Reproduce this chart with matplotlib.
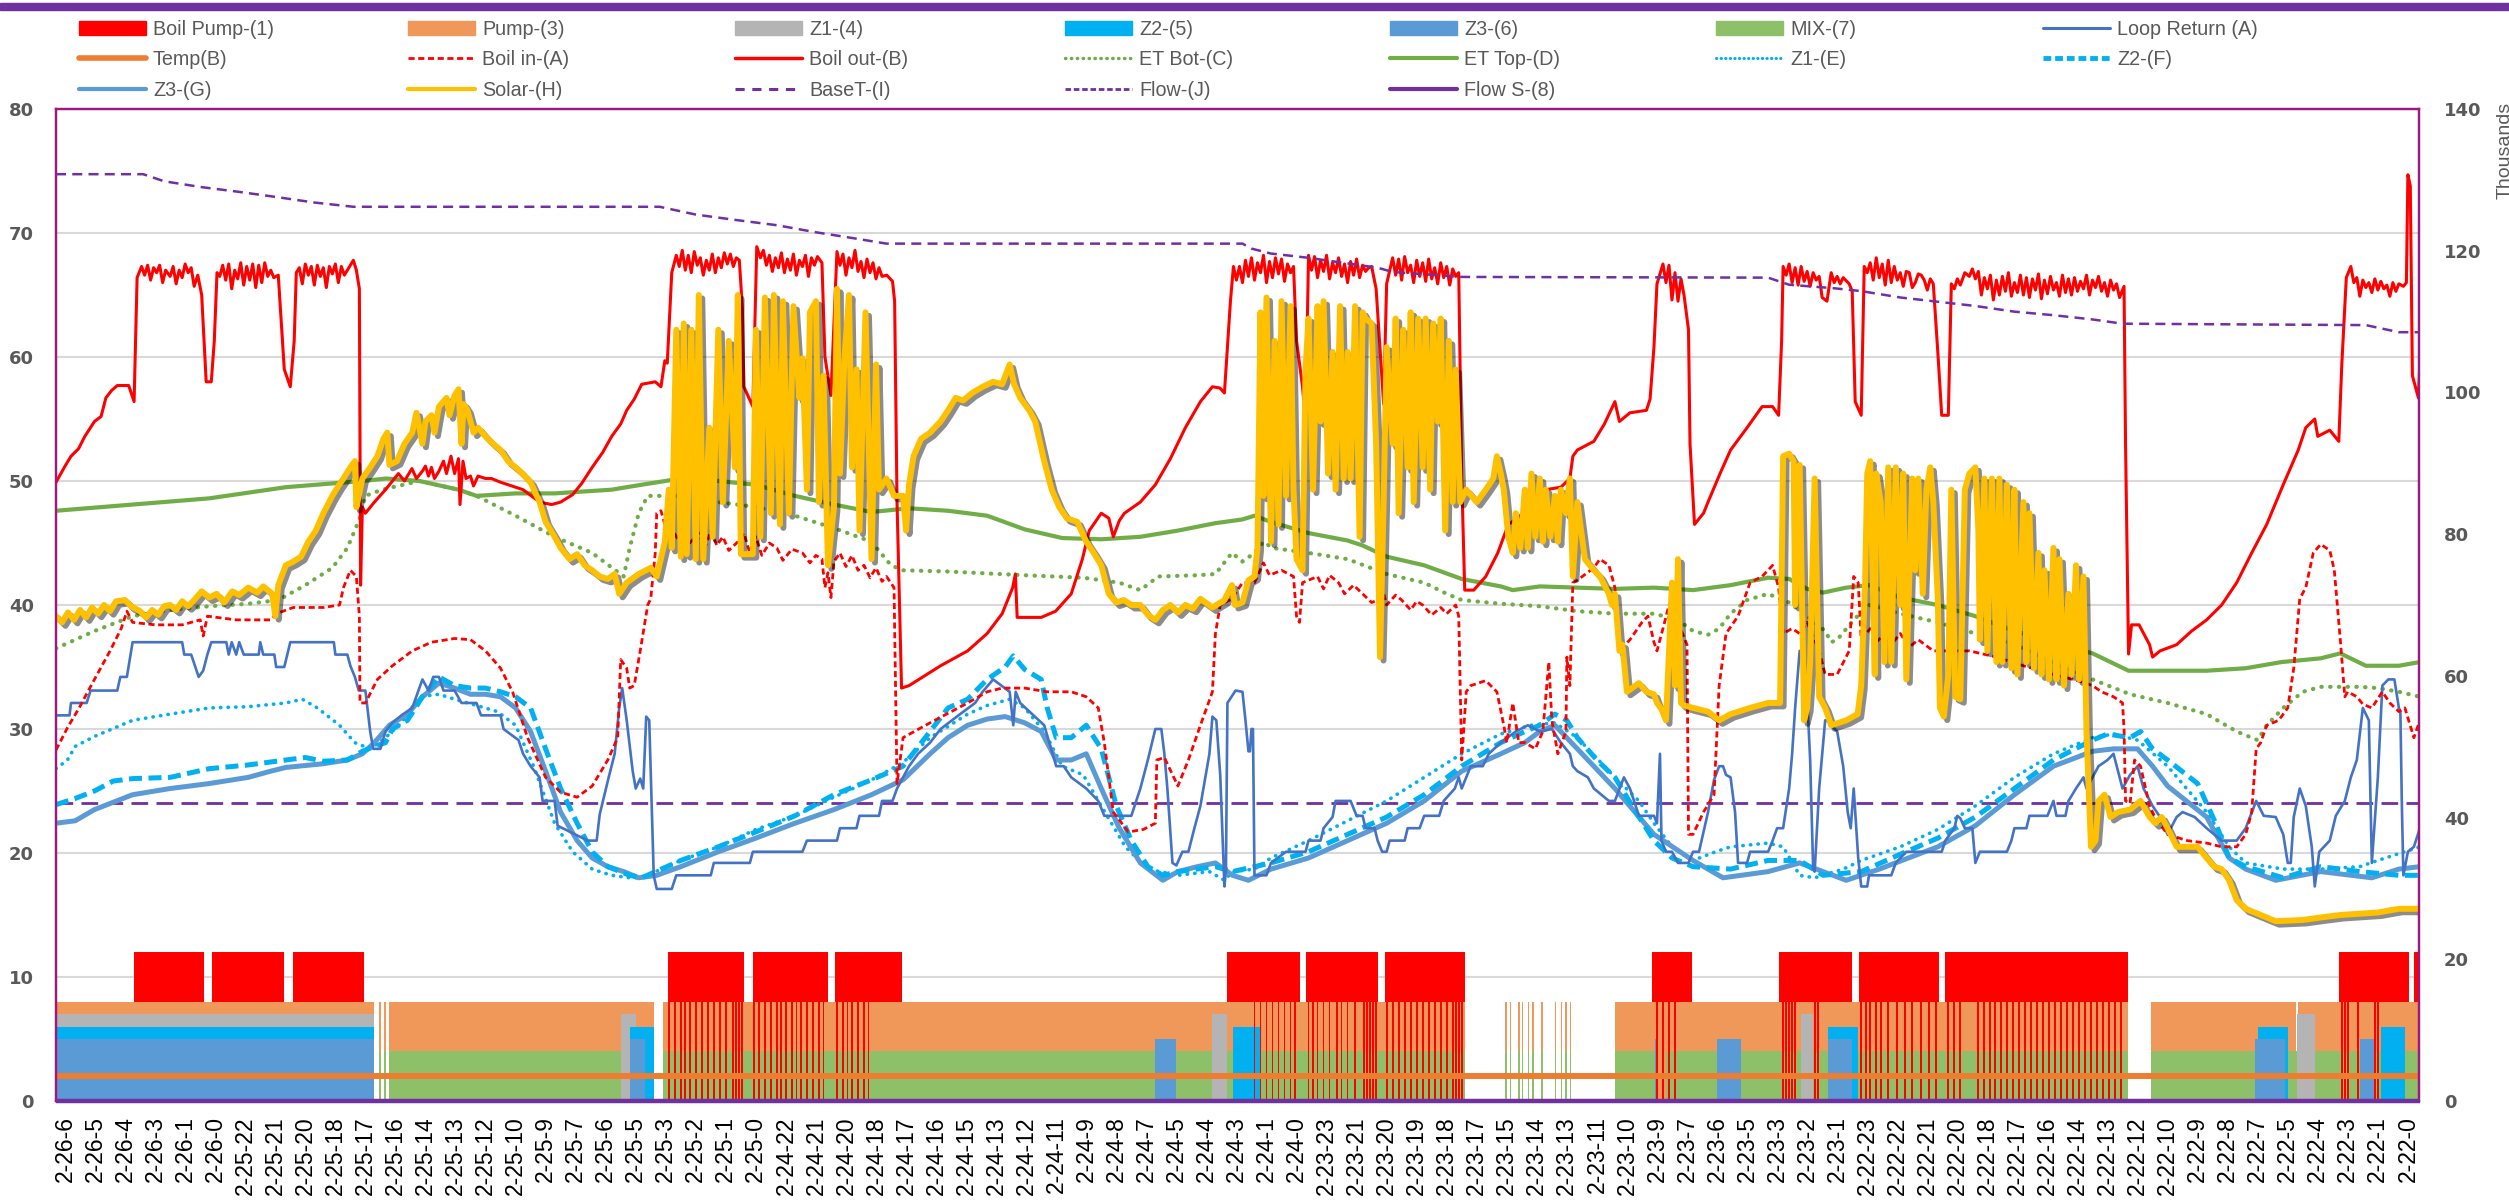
import matplotlib
matplotlib.use("Agg")
import matplotlib.pyplot as plt
import matplotlib.patheffects as pe
from matplotlib.patches import Patch, Rectangle
from matplotlib.lines import Line2D
import numpy as np

# x positions are in "tick slots" of the category axis (0 = 2-26-6, 78 = 2-22-0)
tick_labels = ["2-26-6", "2-26-5", "2-26-4", "2-26-3", "2-26-1", "2-26-0", "2-25-22", "2-25-21", "2-25-20", "2-25-18",
               "2-25-17", "2-25-16", "2-25-14", "2-25-13", "2-25-12", "2-25-10", "2-25-9", "2-25-7", "2-25-6", "2-25-5",
               "2-25-3", "2-25-2", "2-25-1", "2-25-0", "2-24-22", "2-24-21", "2-24-20", "2-24-18", "2-24-17", "2-24-16",
               "2-24-15", "2-24-13", "2-24-12", "2-24-11", "2-24-9", "2-24-8", "2-24-7", "2-24-5", "2-24-4", "2-24-3",
               "2-24-1", "2-24-0", "2-23-23", "2-23-21", "2-23-20", "2-23-19", "2-23-18", "2-23-17", "2-23-15", "2-23-14",
               "2-23-13", "2-23-11", "2-23-10", "2-23-9", "2-23-7", "2-23-6", "2-23-5", "2-23-3", "2-23-2", "2-23-1",
               "2-22-23", "2-22-22", "2-22-21", "2-22-20", "2-22-18", "2-22-17", "2-22-16", "2-22-14", "2-22-13", "2-22-12",
               "2-22-10", "2-22-9", "2-22-8", "2-22-7", "2-22-5", "2-22-4", "2-22-3", "2-22-1", "2-22-0"]

# on/off periods (start, end) for the status columns
boil_pump_on = [(2.3, 4.64), (4.88, 7.3), (7.58, 9.97), (20.07, 22.62), (22.93, 25.4), (25.63, 27.85),
                (38.7, 41.1), (41.3, 43.7), (43.93, 46.6), (52.82, 54.15), (57.05, 59.5), (59.72, 62.38),
                (62.6, 68.68), (75.7, 78.05), (78.2, 78.4)]
pump_on = [(-0.3, 10.3), (10.45, 10.52), (10.62, 10.68), (10.8, 19.6), (19.9, 46.6), (47.95, 48.0), (48.1, 48.15),
           (48.38, 48.43), (48.5, 48.55), (48.7, 48.75), (48.85, 48.9), (49.15, 49.2), (49.6, 49.65), (49.8, 49.85),
           (49.95, 50.0), (50.1, 50.15), (51.6, 68.68), (69.45, 74.28), (74.33, 78.4)]
z1_on = [(-0.3, 10.3), (18.5, 19.0), (38.2, 38.7), (52.98, 53.05), (57.8, 58.2), (74.3, 74.9)]
z2_on = [(-0.3, 10.3), (18.8, 19.6), (38.9, 39.8), (58.7, 59.7), (73.0, 74.0), (77.1, 77.9)]
z3_on = [(-0.3, 10.3), (18.8, 19.3), (36.3, 37.0), (52.95, 53.0), (55.0, 55.8), (58.7, 59.5), (72.9, 73.9), (76.4, 76.9)]
mix_on = [(10.45, 10.52), (10.62, 10.68), (10.8, 18.5), (19.9, 36.3), (37.0, 38.2), (38.7, 38.9), (39.8, 46.6),
          (47.95, 48.0), (48.1, 48.15), (48.38, 48.43), (48.5, 48.55), (48.7, 48.75), (48.85, 48.9), (49.15, 49.2),
          (49.6, 49.65), (49.8, 49.85), (49.95, 50.0), (50.1, 50.15), (51.6, 52.95), (53.3, 55.0), (55.8, 57.8),
          (58.2, 58.7), (59.7, 68.68), (69.45, 72.9), (74.0, 74.3), (74.9, 76.4), (76.9, 77.1), (77.9, 78.4)]
# samples where only the boiler pump ran (pump and mix off)
boil_only = [20.1, 20.3, 20.5, 20.65, 20.8, 21.0, 21.2, 21.4, 21.6, 21.8, 22.0, 22.25, 22.35, 22.45, 22.55,
             22.95, 23.1, 23.3, 23.5, 23.7, 23.85, 24.0, 24.2, 24.35, 24.5, 24.7, 24.9, 25.1, 25.25,
             25.7, 25.9, 26.05, 26.2, 26.4, 26.6, 26.75,
             39.6, 39.8, 40.0, 40.2, 40.4, 40.6, 40.8, 40.95, 41.4, 41.55, 41.7, 41.9, 42.1, 42.35, 42.5, 42.7,
             42.95, 43.25, 43.35, 43.45, 43.55, 43.65, 44.0, 44.2, 44.4, 44.6, 44.8, 45.0, 45.2, 45.4, 45.6,
             45.8, 46.0, 46.2, 46.3, 46.4, 46.5, 53.0, 53.2, 53.4, 53.6, 57.2, 57.3, 57.4, 57.5, 57.6, 58.25,
             58.35, 59.8, 59.95, 60.1, 60.3, 60.45, 60.7, 61.0, 61.25, 61.5, 61.8, 62.05, 62.3, 62.7, 62.9,
             63.1, 63.7, 63.9, 64.1, 64.25, 64.45, 64.65, 64.85, 65.05, 65.25, 65.45, 65.65, 65.85, 66.05,
             66.25, 66.45, 66.65, 66.85, 67.05, 67.25, 67.45, 67.65, 67.85, 68.05, 68.25, 68.45,
             75.8, 75.9, 76.0, 76.35, 76.9, 77.0]

boil_out = [(-0.3, 49.9), (0.0, 51.2), (0.2, 52.0), (0.45, 52.6), (0.66, 53.6), (0.98, 54.8), (1.2, 55.2), (1.36, 56.7),
            (1.55, 57.3), (1.74, 57.7), (2.12, 57.7), (2.3, 56.4), (2.4, 66.4), (2.55, 67.3), (2.65, 66.6), (2.75, 67.4),
            (2.85, 66.2), (2.95, 67.2), (3.05, 66.8), (3.15, 67.4), (3.25, 66.0), (3.35, 67.0), (3.5, 66.5), (3.6, 67.3),
            (3.7, 65.9), (3.8, 67.0), (3.9, 66.4), (4.0, 67.5), (4.1, 66.8), (4.2, 67.2), (4.3, 65.7), (4.42, 66.6),
            (4.55, 65.0), (4.7, 58.0), (4.87, 58.0), (4.97, 61.3), (5.06, 66.8), (5.15, 66.5), (5.25, 67.4), (5.35, 66.2),
            (5.45, 67.5), (5.55, 65.5), (5.65, 67.0), (5.75, 66.3), (5.85, 67.6), (5.95, 65.8), (6.05, 67.3), (6.15, 66.2),
            (6.25, 67.5), (6.35, 65.6), (6.45, 67.4), (6.55, 66.0), (6.65, 67.6), (6.75, 66.5), (6.85, 67.0), (6.95, 66.4),
            (7.1, 66.6), (7.3, 59.0), (7.5, 57.6), (7.63, 61.3), (7.7, 66.8), (7.8, 67.2), (7.9, 65.9), (8.0, 67.5),
            (8.1, 66.6), (8.2, 67.3), (8.3, 65.8), (8.4, 67.4), (8.5, 66.5), (8.6, 67.2), (8.7, 65.6), (8.8, 67.3),
            (8.9, 66.7), (9.0, 67.5), (9.1, 66.0), (9.2, 67.3), (9.3, 66.6), (9.45, 67.2), (9.6, 67.8), (9.7, 67.0),
            (9.8, 65.5), (9.84, 41.6), (9.9, 47.9), (10.0, 47.4), (10.3, 48.3), (10.67, 49.3), (10.9, 50.0), (11.1, 50.6),
            (11.3, 50.0), (11.4, 50.4), (11.55, 51.0), (11.7, 50.2), (11.9, 50.8), (12.0, 51.2), (12.1, 50.4), (12.2, 51.1),
            (12.3, 50.2), (12.45, 50.8), (12.6, 51.6), (12.7, 50.6), (12.85, 52.0), (12.97, 50.6), (13.1, 51.8),
            (13.15, 48.1), (13.25, 51.6), (13.35, 50.2), (13.5, 50.4), (13.6, 49.6), (13.75, 50.4), (14.0, 50.2),
            (14.2, 50.2), (14.5, 49.9), (14.75, 49.7), (15.25, 49.3), (15.8, 48.3), (16.2, 48.1), (16.5, 48.3),
            (16.9, 48.9), (17.2, 49.8), (17.55, 51.1), (17.9, 52.3), (18.2, 53.6), (18.5, 54.6), (18.7, 55.7),
            (18.95, 56.6), (19.2, 57.8), (19.65, 58.0), (19.84, 57.6), (19.97, 59.7), (20.05, 59.5), (20.2, 66.8),
            (20.35, 68.2), (20.45, 67.3), (20.55, 68.6), (20.65, 67.0), (20.75, 68.2), (20.85, 66.8), (20.95, 68.5),
            (21.05, 67.4), (21.15, 68.0), (21.25, 66.6), (21.35, 67.8), (21.45, 67.0), (21.55, 68.3), (21.65, 66.8),
            (21.75, 68.0), (21.85, 67.2), (21.95, 68.4), (22.05, 67.5), (22.15, 68.3), (22.25, 67.3), (22.35, 68.0),
            (22.45, 67.8), (22.55, 64.0), (22.6, 57.6), (22.9, 56.0), (23.03, 68.9), (23.15, 68.0), (23.25, 68.6),
            (23.35, 67.4), (23.45, 68.2), (23.55, 66.9), (23.65, 68.0), (23.75, 67.2), (23.85, 68.4), (23.95, 66.8),
            (24.05, 67.9), (24.15, 67.0), (24.25, 68.3), (24.35, 66.6), (24.45, 67.8), (24.55, 67.3), (24.65, 68.2),
            (24.75, 66.5), (24.85, 68.0), (24.95, 67.4), (25.05, 68.1), (25.2, 67.6), (25.3, 60.0), (25.5, 56.9),
            (25.7, 68.5), (25.8, 67.4), (25.9, 68.3), (26.0, 66.6), (26.1, 68.0), (26.2, 67.2), (26.3, 68.6),
            (26.4, 66.9), (26.5, 67.7), (26.6, 66.4), (26.7, 67.9), (26.8, 66.8), (26.9, 67.6), (27.0, 66.3),
            (27.1, 67.2), (27.2, 66.5), (27.36, 66.6), (27.55, 66.1), (27.62, 64.5), (27.7, 48.3), (27.85, 33.3),
            (28.1, 33.5), (29.15, 35.1), (30.05, 36.3), (30.7, 37.7), (31.2, 39.3), (31.55, 41.4), (31.64, 42.5),
            (31.7, 39.0), (32.5, 39.0), (32.98, 39.5), (33.5, 40.9), (33.87, 43.7), (34.1, 46.0), (34.5, 47.4),
            (34.75, 47.0), (34.9, 45.5), (35.1, 46.8), (35.27, 47.4), (35.8, 48.3), (36.3, 49.7), (36.8, 51.8),
            (37.3, 54.3), (37.8, 56.4), (38.2, 57.6), (38.45, 57.5), (38.6, 57.1), (38.8, 64.5), (38.9, 67.3),
            (39.0, 66.2), (39.1, 67.3), (39.2, 66.0), (39.3, 67.8), (39.4, 66.5), (39.5, 68.0), (39.6, 66.2),
            (39.7, 67.6), (39.8, 66.8), (39.9, 68.2), (40.0, 66.0), (40.1, 67.7), (40.2, 66.4), (40.3, 68.0),
            (40.4, 66.7), (40.5, 67.9), (40.6, 66.1), (40.7, 67.5), (40.8, 66.8), (40.9, 67.3), (41.0, 61.3),
            (41.2, 57.6), (41.3, 54.8), (41.4, 68.2), (41.5, 67.0), (41.6, 68.1), (41.7, 66.4), (41.8, 67.8),
            (41.9, 66.9), (42.0, 68.2), (42.1, 66.3), (42.2, 67.6), (42.3, 66.8), (42.4, 68.0), (42.5, 66.5),
            (42.6, 67.5), (42.7, 66.0), (42.8, 67.7), (42.9, 66.6), (43.0, 67.9), (43.1, 66.4), (43.2, 67.4),
            (43.3, 66.9), (43.4, 67.2), (43.5, 67.3), (43.65, 65.5), (43.8, 60.0), (43.9, 56.2), (44.0, 65.9),
            (44.2, 68.0), (44.3, 66.6), (44.4, 67.9), (44.5, 66.2), (44.6, 68.1), (44.7, 66.8), (44.8, 67.4),
            (44.9, 66.0), (45.0, 67.8), (45.1, 66.5), (45.2, 67.6), (45.3, 66.1), (45.4, 67.9), (45.5, 66.3),
            (45.6, 67.2), (45.7, 65.9), (45.8, 67.6), (45.9, 66.4), (46.0, 67.3), (46.1, 65.8), (46.2, 67.1),
            (46.3, 66.5), (46.4, 66.8), (46.5, 50.2), (46.6, 41.2), (46.9, 41.2), (47.3, 42.3), (47.7, 44.2),
            (48.05, 46.5), (48.3, 46.9), (48.6, 47.4), (48.8, 48.8), (49.3, 49.3), (49.8, 49.5), (50.1, 50.2),
            (50.2, 52.0), (50.35, 52.5), (50.9, 53.2), (51.25, 54.6), (51.6, 56.4), (51.75, 54.8), (52.1, 55.5),
            (52.65, 55.7), (52.77, 56.6), (52.9, 60.8), (53.0, 65.9), (53.2, 67.5), (53.3, 66.0), (53.4, 67.4),
            (53.5, 64.6), (53.6, 66.8), (53.7, 64.5), (53.8, 66.3), (53.9, 65.0), (54.05, 62.2), (54.1, 53.0),
            (54.25, 46.5), (54.55, 47.4), (54.7, 48.3), (55.1, 50.6), (55.45, 52.5), (56.0, 54.3), (56.5, 56.0),
            (56.85, 56.0), (57.05, 55.3), (57.15, 61.3), (57.2, 67.3), (57.3, 66.6), (57.4, 67.5), (57.5, 66.0),
            (57.6, 67.2), (57.7, 65.8), (57.8, 67.3), (57.9, 66.1), (58.0, 66.9), (58.1, 65.7), (58.2, 66.8),
            (58.3, 66.2), (58.4, 66.5), (58.5, 64.8), (58.66, 64.5), (58.8, 66.8), (58.9, 66.0), (59.0, 66.5),
            (59.1, 65.9), (59.2, 66.4), (59.4, 65.9), (59.5, 65.3), (59.6, 56.4), (59.8, 55.3), (59.9, 67.3),
            (60.0, 66.8), (60.1, 67.6), (60.2, 66.2), (60.3, 68.0), (60.4, 66.4), (60.5, 67.5), (60.6, 65.8),
            (60.7, 67.8), (60.8, 66.0), (60.9, 67.3), (61.0, 66.2), (61.1, 66.8), (61.2, 65.7), (61.3, 66.9),
            (61.4, 66.8), (61.5, 65.6), (61.6, 66.0), (61.7, 66.7), (61.8, 66.6), (61.9, 66.2), (62.0, 65.4),
            (62.1, 66.3), (62.2, 65.9), (62.35, 60.4), (62.48, 55.3), (62.7, 55.3), (62.8, 65.9), (62.9, 65.5),
            (63.0, 66.3), (63.1, 65.8), (63.25, 66.8), (63.4, 66.5), (63.5, 67.1), (63.6, 66.3), (63.7, 66.9),
            (63.8, 65.0), (63.9, 66.4), (64.0, 65.5), (64.1, 66.6), (64.2, 64.6), (64.3, 66.2), (64.4, 65.0),
            (64.5, 66.5), (64.6, 65.3), (64.7, 66.8), (64.8, 64.9), (64.9, 66.0), (65.0, 65.2), (65.1, 66.6),
            (65.2, 65.0), (65.3, 66.4), (65.4, 64.8), (65.5, 66.3), (65.6, 65.4), (65.7, 66.7), (65.8, 64.7),
            (65.9, 66.2), (66.0, 65.1), (66.1, 66.5), (66.2, 65.4), (66.3, 66.0), (66.4, 64.9), (66.5, 66.6),
            (66.6, 65.2), (66.7, 66.3), (66.8, 65.0), (66.9, 66.4), (67.0, 65.3), (67.1, 66.1), (67.2, 65.5),
            (67.3, 66.6), (67.4, 65.0), (67.5, 66.2), (67.6, 65.6), (67.7, 66.5), (67.8, 65.3), (67.9, 66.0),
            (68.0, 64.9), (68.1, 66.2), (68.2, 65.4), (68.3, 65.9), (68.4, 64.8), (68.55, 65.7), (68.6, 53.0),
            (68.7, 36.05), (68.8, 38.4), (69.05, 38.4), (69.4, 36.8), (69.5, 35.8), (69.75, 36.3), (70.3, 36.8),
            (70.8, 37.9), (71.3, 38.8), (71.8, 40.0), (72.3, 41.8), (72.8, 44.2), (73.3, 46.5), (73.85, 49.7),
            (74.35, 52.5), (74.6, 54.3), (74.9, 55.0), (75.0, 53.6), (75.4, 54.1), (75.7, 53.2), (75.8, 59.4),
            (75.95, 66.4), (76.1, 67.3), (76.2, 66.0), (76.3, 66.4), (76.4, 64.9), (76.5, 66.2), (76.6, 65.6),
            (76.7, 66.0), (76.8, 65.2), (76.9, 66.3), (77.0, 65.4), (77.1, 66.1), (77.2, 65.5), (77.3, 65.8),
            (77.4, 64.9), (77.5, 66.0), (77.6, 65.3), (77.7, 65.9), (77.85, 65.7), (77.95, 66.0), (78.0, 74.7),
            (78.08, 73.8), (78.15, 58.5), (78.25, 57.6), (78.35, 56.7), (78.42, 60.8)]

boil_in = [(-0.3, 28.3), (0.08, 30.1), (0.47, 31.7), (0.98, 34.0), (1.5, 36.3), (1.87, 38.1), (2.06, 39.5), (2.25, 38.6),
           (3.0, 38.4), (3.9, 38.4), (4.5, 38.8), (4.6, 37.5), (4.74, 39.1), (5.7, 38.8), (6.85, 38.8), (7.03, 39.3),
           (7.6, 39.8), (8.6, 39.8), (9.14, 40.0), (9.27, 41.4), (9.5, 42.8), (9.7, 42.3), (9.8, 39.1), (9.82, 32.1),
           (10.0, 32.1), (10.4, 34.0), (10.9, 35.1), (11.56, 36.3), (12.2, 37.0), (12.97, 37.3), (13.5, 37.2),
           (14.0, 36.3), (14.5, 34.9), (14.9, 33.0), (15.4, 29.3), (16.0, 26.1), (16.5, 24.9), (17.05, 24.5),
           (17.55, 25.4), (18.07, 27.5), (18.4, 29.3), (18.5, 35.6), (18.7, 34.9), (18.8, 33.3), (18.95, 33.5),
           (19.15, 36.3), (19.4, 40.0), (19.5, 40.5), (19.65, 44.2), (19.7, 47.4), (19.84, 47.6), (19.97, 46.5),
           (20.2, 46.2), (20.4, 45.3), (20.6, 46.4), (20.8, 45.0), (21.1, 45.8), (21.3, 44.6), (21.5, 46.0),
           (21.7, 44.8), (21.9, 45.5), (22.1, 44.4), (22.4, 45.1), (22.6, 45.8), (22.8, 44.2), (23.0, 45.5),
           (23.2, 44.0), (23.45, 45.0), (23.7, 44.6), (23.9, 43.6), (24.2, 44.5), (24.55, 44.2), (24.8, 43.4),
           (25.0, 44.0), (25.2, 43.7), (25.3, 41.4), (25.4, 42.6), (25.5, 40.6), (25.6, 43.5), (25.8, 44.2),
           (26.0, 43.1), (26.2, 44.0), (26.4, 42.8), (26.6, 43.2), (26.8, 42.2), (27.0, 43.0), (27.2, 41.9),
           (27.35, 42.3), (27.6, 41.4), (27.7, 25.6), (27.9, 29.3), (28.8, 30.5), (30.05, 32.1), (30.7, 33.0),
           (31.2, 33.3), (31.95, 33.3), (32.7, 33.0), (33.5, 33.0), (34.0, 32.6), (34.4, 31.7), (34.6, 28.9),
           (34.9, 23.3), (35.4, 21.7), (35.9, 21.9), (36.3, 22.4), (36.35, 27.5), (36.6, 27.7), (37.05, 25.4),
           (37.4, 27.5), (37.8, 30.3), (38.2, 33.0), (38.3, 37.7), (38.46, 40.0), (38.85, 40.5), (39.2, 41.8),
           (39.6, 41.8), (39.9, 43.4), (40.1, 42.4), (40.5, 42.8), (40.9, 42.3), (41.0, 39.1), (41.1, 38.6),
           (41.2, 41.8), (41.7, 42.3), (41.9, 41.3), (42.1, 42.4), (42.4, 41.8), (42.6, 40.9), (42.9, 41.6),
           (43.2, 40.9), (43.5, 40.2), (43.7, 40.4), (43.85, 41.4), (44.0, 40.0), (44.3, 40.8), (44.5, 40.4),
           (44.8, 39.6), (45.0, 40.3), (45.2, 40.0), (45.5, 39.2), (45.8, 39.8), (46.0, 39.3), (46.3, 40.0),
           (46.4, 39.1), (46.5, 27.5), (46.65, 33.0), (46.8, 33.5), (47.3, 33.9), (47.67, 33.0), (47.9, 30.3),
           (48.0, 28.9), (48.2, 32.1), (48.4, 28.9), (48.6, 28.9), (48.95, 28.4), (49.2, 29.8), (49.4, 35.4),
           (49.5, 30.7), (49.7, 28.0), (49.97, 29.8), (50.0, 35.8), (50.1, 33.5), (50.2, 41.8), (50.35, 42.0),
           (50.9, 43.0), (51.1, 43.7), (51.4, 43.2), (51.6, 41.4), (51.75, 36.3), (52.1, 37.2), (52.5, 38.6),
           (52.7, 39.1), (52.9, 37.0), (53.0, 36.3), (53.2, 38.1), (53.4, 40.0), (53.7, 38.6), (54.0, 36.8),
           (54.05, 21.5), (54.2, 21.5), (54.55, 23.3), (54.9, 24.7), (55.07, 33.5), (55.3, 37.7), (55.7, 39.1),
           (56.1, 41.8), (56.5, 42.3), (56.85, 43.2), (57.05, 41.4), (57.2, 37.7), (57.5, 38.1), (57.75, 37.7),
           (58.0, 38.6), (58.4, 36.3), (58.6, 34.4), (58.8, 34.4), (59.0, 34.4), (59.4, 36.3), (59.55, 42.3),
           (59.7, 41.8), (59.8, 37.2), (60.1, 38.1), (60.3, 37.0), (60.6, 37.7), (60.8, 36.8), (61.1, 37.7),
           (61.4, 36.6), (61.7, 37.2), (62.2, 36.3), (62.7, 36.3), (63.4, 36.3), (64.3, 35.8), (65.2, 35.1),
           (66.2, 34.4), (67.0, 33.9), (67.5, 33.5), (67.8, 33.0), (68.2, 32.6), (68.5, 32.1), (68.55, 30.0),
           (68.6, 24.2), (68.75, 24.0), (68.9, 27.5), (69.1, 27.0), (69.4, 23.8), (69.6, 22.8), (70.0, 21.5),
           (70.65, 21.0), (71.3, 20.8), (71.8, 20.5), (72.3, 20.5), (72.6, 21.5), (72.8, 23.3), (72.95, 28.4),
           (73.1, 28.9), (73.3, 30.3), (73.7, 30.7), (74.0, 31.7), (74.2, 34.9), (74.4, 40.5), (74.6, 41.4),
           (74.85, 44.2), (75.1, 44.9), (75.4, 44.4), (75.55, 42.8), (75.75, 37.2), (75.9, 32.6), (76.0, 33.0),
           (76.3, 32.6), (76.5, 32.0), (76.8, 31.7), (77.15, 33.0), (77.4, 32.1), (77.7, 31.4), (77.9, 31.7),
           (78.2, 29.3), (78.4, 30.7)]

et_top = [(-0.3, 47.6), (2.25, 48.1), (4.8, 48.6), (7.35, 49.5), (9.9, 50.0), (10.7, 50.2), (11.8, 50.0), (13.1, 49.3),
          (13.7, 48.8), (15.0, 49.0), (16.3, 49.0), (18.2, 49.3), (19.2, 49.7), (20.5, 50.2), (21.75, 50.0),
          (23.0, 49.7), (24.3, 48.8), (25.6, 48.1), (26.85, 47.5), (28.1, 47.8), (29.4, 47.6), (30.7, 47.2),
          (31.95, 46.1), (33.2, 45.4), (34.5, 45.3), (35.8, 45.5), (37.05, 46.0), (38.3, 46.6), (39.2, 46.9),
          (39.6, 47.2), (40.15, 46.7), (41.4, 45.8), (42.7, 45.2), (43.2, 44.8), (44.0, 43.9), (45.25, 43.2),
          (46.5, 42.1), (47.8, 41.5), (48.2, 41.2), (49.1, 41.5), (50.35, 41.4), (51.6, 41.3), (52.9, 41.4),
          (54.2, 41.2), (55.45, 41.6), (56.7, 42.2), (57.4, 42.1), (58.0, 41.3), (58.53, 41.0), (59.3, 41.4),
          (60.06, 41.6), (61.1, 40.6), (62.35, 40.0), (63.6, 39.1), (64.9, 37.9), (66.2, 37.0), (67.5, 36.1),
          (68.7, 34.7), (71.3, 34.7), (72.6, 34.9), (73.8, 35.4), (75.1, 35.7), (75.75, 36.1), (76.6, 35.1),
          (77.7, 35.1), (78.4, 35.4)]

et_bot = [(-0.3, 36.5), (0.98, 37.9), (2.25, 39.1), (3.5, 39.6), (4.8, 39.9), (6.1, 40.1), (7.1, 40.4), (8.0, 41.6),
          (8.9, 43.0), (9.4, 44.6), (9.8, 46.9), (10.0, 48.8), (10.55, 49.3), (11.8, 50.0), (13.1, 49.3), (13.7, 48.8),
          (15.0, 47.2), (16.3, 45.5), (17.55, 44.2), (18.6, 42.3), (18.8, 44.6), (19.1, 47.4), (19.4, 48.8),
          (20.5, 48.8), (21.75, 48.3), (23.0, 47.9), (24.3, 47.2), (25.6, 46.2), (26.85, 45.1), (27.5, 43.2),
          (27.9, 42.8), (29.4, 42.7), (31.95, 42.4), (33.9, 42.2), (35.1, 41.8), (35.8, 41.2), (36.4, 42.3),
          (37.7, 42.4), (38.3, 42.5), (38.85, 44.2), (39.2, 43.5), (39.6, 44.2), (39.9, 45.1), (40.2, 44.6),
          (41.4, 44.2), (42.7, 43.7), (44.0, 42.5), (45.25, 41.8), (46.0, 40.9), (46.5, 40.4), (47.8, 40.1),
          (49.1, 39.9), (50.35, 39.5), (51.6, 39.3), (52.9, 39.3), (53.7, 38.8), (54.2, 37.9), (54.7, 37.6),
          (55.07, 38.1), (55.45, 39.3), (56.0, 40.4), (56.7, 40.9), (57.4, 40.2), (58.0, 39.1), (58.6, 37.9),
          (58.8, 37.0), (59.0, 37.2), (59.55, 38.8), (60.06, 40.0), (61.1, 39.3), (62.35, 38.6), (63.6, 37.7),
          (64.9, 36.8), (66.2, 35.4), (67.5, 34.0), (68.75, 32.8), (70.0, 32.1), (71.3, 31.2), (72.3, 29.8),
          (73.0, 29.1), (73.3, 30.3), (73.85, 31.7), (74.5, 33.0), (75.1, 33.4), (76.4, 33.4), (77.0, 33.3),
          (77.7, 33.0), (78.4, 32.6)]

loop_return = [(-0.3, 31.1), (0.15, 31.1), (0.2, 32.1), (0.72, 32.1), (0.85, 33.1), (1.74, 33.1), (1.84, 34.2),
               (2.06, 34.2), (2.25, 37.0), (3.9, 37.0), (3.97, 36.0), (4.2, 36.0), (4.45, 34.2), (4.6, 34.7),
               (4.74, 36.0), (4.87, 37.0), (5.37, 37.0), (5.45, 36.0), (5.55, 37.0), (5.7, 36.0), (5.8, 37.0),
               (5.95, 36.0), (6.45, 36.0), (6.5, 37.0), (6.6, 36.0), (6.97, 36.0), (7.03, 35.0), (7.3, 35.0),
               (7.5, 37.0), (8.95, 37.0), (9.0, 36.0), (9.4, 36.0), (9.5, 35.1), (9.65, 34.2), (9.78, 33.1),
               (10.0, 33.1), (10.16, 29.8), (10.26, 28.4), (10.5, 28.4), (10.67, 29.8), (10.9, 30.5), (11.2, 31.1),
               (11.56, 31.7), (11.9, 34.0), (12.1, 33.1), (12.26, 34.2), (12.45, 34.2), (12.6, 33.1), (12.97, 33.1),
               (13.2, 32.1), (13.7, 32.1), (13.85, 31.1), (14.5, 31.1), (14.6, 30.0), (15.1, 29.1), (15.25, 28.0),
               (15.5, 27.0), (15.8, 26.1), (15.9, 24.2), (16.3, 24.2), (16.4, 22.2), (17.4, 21.0), (17.7, 21.0),
               (17.8, 23.1), (18.1, 26.1), (18.3, 28.0), (18.45, 31.7), (18.55, 33.3), (18.7, 30.7), (18.9, 26.6),
               (19.0, 25.2), (19.15, 26.0), (19.25, 25.2), (19.35, 31.0), (19.45, 30.7), (19.6, 18.2), (19.7, 17.1),
               (20.2, 17.1), (20.35, 18.2), (21.5, 18.2), (21.6, 19.2), (22.8, 19.2), (22.9, 20.1), (24.55, 20.1),
               (24.7, 21.0), (25.7, 21.0), (25.8, 22.0), (26.35, 22.0), (26.45, 23.0), (27.1, 23.0), (27.2, 24.2),
               (27.55, 24.2), (27.7, 25.2), (28.1, 27.0), (28.4, 28.0), (28.8, 28.9), (29.15, 30.0), (29.8, 31.2),
               (30.3, 32.1), (30.55, 33.0), (30.9, 34.0), (31.45, 33.0), (31.57, 30.3), (31.65, 33.0), (31.8, 32.1),
               (32.2, 31.2), (32.6, 30.3), (33.0, 27.0), (33.25, 27.0), (33.5, 26.1), (34.0, 25.2), (34.4, 24.2),
               (34.6, 23.0), (35.5, 23.0), (35.8, 25.2), (36.05, 27.5), (36.3, 30.0), (36.5, 30.0), (36.6, 28.0),
               (36.7, 25.2), (36.87, 19.2), (37.0, 19.0), (37.2, 20.1), (37.4, 20.1), (37.6, 22.0), (37.8, 23.8),
               (38.1, 28.0), (38.2, 31.0), (38.33, 30.7), (38.46, 26.3), (38.6, 17.3), (38.65, 18.6), (38.7, 32.1),
               (38.97, 33.1), (39.2, 33.0), (39.3, 30.7), (39.4, 28.2), (39.45, 28.2), (39.5, 30.0), (39.55, 30.0),
               (39.6, 18.2), (40.0, 18.2), (40.15, 19.2), (40.65, 20.1), (41.3, 20.1), (41.4, 21.0), (41.8, 21.0),
               (41.9, 22.0), (42.2, 22.9), (42.3, 24.2), (42.8, 24.2), (43.0, 23.0), (43.2, 23.0), (43.3, 22.0),
               (43.6, 22.0), (43.7, 21.0), (43.85, 20.1), (44.0, 20.1), (44.1, 21.0), (44.6, 21.0), (44.7, 22.0),
               (45.1, 22.0), (45.25, 23.0), (45.75, 23.0), (45.9, 24.2), (46.27, 25.2), (46.4, 26.1), (46.5, 25.2),
               (46.8, 27.0), (47.2, 27.0), (47.4, 28.0), (47.8, 28.9), (48.3, 29.8), (48.7, 30.3), (49.1, 29.8),
               (49.5, 30.0), (49.8, 28.9), (50.1, 28.0), (50.2, 27.0), (50.35, 26.6), (50.7, 26.1), (50.9, 25.2),
               (51.4, 24.2), (51.6, 24.2), (51.9, 26.1), (52.1, 25.2), (52.4, 23.0), (52.9, 23.0), (53.0, 22.4),
               (53.1, 28.0), (53.15, 21.0), (53.3, 20.1), (53.5, 20.1), (53.7, 19.2), (54.05, 19.2), (54.2, 20.1),
               (54.4, 20.1), (54.7, 23.3), (54.9, 25.9), (55.07, 27.0), (55.2, 27.0), (55.3, 26.3), (55.45, 26.1),
               (55.6, 23.3), (55.7, 19.2), (56.0, 19.2), (56.1, 20.1), (56.7, 20.1), (56.85, 21.0), (57.0, 22.0),
               (57.2, 22.0), (57.4, 25.2), (57.5, 28.0), (57.6, 31.7), (57.75, 36.3), (57.9, 35.1), (58.0, 32.6),
               (58.1, 27.5), (58.2, 18.7), (58.25, 18.5), (58.4, 25.2), (58.6, 30.7), (58.66, 30.7), (58.8, 30.3),
               (59.0, 29.8), (59.2, 27.0), (59.35, 23.3), (59.45, 22.0), (59.55, 25.2), (59.7, 19.6), (59.8, 17.3),
               (60.0, 17.3), (60.06, 18.2), (60.8, 18.2), (60.95, 19.2), (61.3, 20.1), (62.48, 20.1), (62.6, 21.0),
               (62.9, 22.0), (63.0, 23.0), (63.1, 22.8), (63.25, 22.0), (63.5, 22.0), (63.6, 19.2), (63.75, 20.1),
               (64.65, 20.1), (64.8, 21.0), (64.9, 22.0), (65.3, 22.0), (65.4, 23.0), (66.0, 23.0), (66.2, 24.2),
               (66.3, 23.0), (66.6, 23.0), (66.7, 24.2), (66.95, 25.2), (67.2, 26.1), (67.3, 25.2), (67.5, 26.1),
               (67.7, 27.0), (68.0, 27.5), (68.2, 28.0), (68.5, 25.2), (68.75, 26.3), (69.0, 27.0), (69.2, 25.2),
               (69.5, 23.8), (69.75, 22.9), (70.0, 21.5), (70.3, 22.9), (70.5, 23.3), (70.9, 22.9), (71.3, 22.0),
               (71.8, 21.0), (72.3, 21.0), (72.6, 22.0), (72.95, 24.2), (73.2, 23.0), (73.6, 22.9), (73.85, 21.5),
               (74.0, 19.2), (74.1, 19.2), (74.2, 22.9), (74.4, 25.2), (74.6, 23.8), (74.8, 20.5), (74.9, 17.3),
               (75.05, 20.1), (75.4, 21.0), (75.6, 23.0), (75.9, 24.2), (76.1, 26.1), (76.3, 27.5), (76.5, 31.7),
               (76.7, 30.7), (76.8, 19.2), (77.0, 26.1), (77.15, 33.5), (77.35, 34.0), (77.55, 34.0), (77.7, 31.7),
               (77.75, 31.4), (77.8, 23.8), (77.85, 18.2), (78.0, 20.1), (78.2, 20.5), (78.4, 22.0)]

z1_e = [(-0.3, 26.8), (0.08, 27.5), (0.34, 28.6), (0.98, 29.4), (2.25, 30.7), (3.5, 31.2), (4.8, 31.7), (6.1, 31.8),
        (7.35, 32.1), (7.9, 32.4), (8.4, 31.7), (9.14, 30.3), (9.65, 28.9), (10.16, 28.4), (10.67, 29.3), (11.2, 30.5),
        (11.8, 32.6), (12.45, 32.8), (12.97, 32.4), (13.7, 31.9), (14.4, 31.4), (15.0, 30.3), (15.6, 27.0),
        (16.3, 22.4), (16.9, 20.1), (17.55, 18.7), (18.2, 18.2), (18.8, 18.0), (19.2, 18.0), (20.5, 19.4),
        (21.75, 20.5), (23.0, 21.9), (24.3, 23.0), (25.6, 24.5), (26.85, 25.9), (27.9, 27.3), (28.8, 29.3),
        (30.05, 31.2), (30.7, 31.9), (31.45, 32.4), (31.95, 31.7), (32.6, 29.8), (33.2, 27.0), (33.9, 26.3),
        (34.5, 23.8), (35.3, 20.5), (36.05, 18.7), (37.05, 18.2), (38.1, 18.5), (38.6, 17.8), (38.87, 18.5),
        (39.6, 18.7), (40.15, 19.6), (41.4, 21.0), (42.7, 22.6), (44.0, 24.2), (45.25, 26.1), (46.5, 28.0),
        (47.8, 29.6), (48.8, 30.3), (49.6, 30.5), (50.35, 29.3), (51.6, 26.1), (52.4, 24.2), (52.9, 22.4),
        (53.5, 20.5), (54.2, 19.4), (54.95, 20.1), (55.45, 20.5), (56.7, 20.8), (57.2, 20.5), (57.75, 18.2),
        (58.25, 18.0), (58.53, 18.2), (59.2, 18.7), (59.8, 19.4), (61.1, 20.5), (62.35, 21.9), (63.6, 23.8),
        (64.9, 26.1), (66.2, 28.0), (67.5, 29.3), (68.2, 29.6), (69.0, 29.1), (70.0, 27.0), (71.3, 23.3),
        (72.05, 20.5), (72.6, 19.2), (73.85, 18.7), (75.1, 18.7), (76.4, 18.9), (77.0, 19.4), (78.4, 20.5)]

z2_f = [(-0.3, 23.9), (0.34, 24.4), (0.98, 25.0), (1.6, 25.8), (2.25, 26.0), (3.5, 26.1), (4.8, 26.8), (6.1, 27.1),
        (7.35, 27.5), (8.0, 27.7), (8.6, 27.4), (9.4, 27.5), (9.9, 28.2), (10.3, 28.6), (10.67, 28.9), (10.9, 30.0),
        (11.4, 30.7), (11.9, 32.6), (12.45, 34.2), (12.97, 33.5), (13.5, 33.3), (14.0, 33.3), (14.5, 33.0),
        (15.0, 32.6), (15.5, 31.7), (16.0, 28.4), (16.5, 25.2), (17.05, 22.4), (17.55, 20.1), (18.07, 18.9),
        (18.8, 18.2), (19.2, 18.0), (20.5, 19.4), (21.75, 20.5), (23.0, 21.7), (24.3, 23.0), (25.6, 24.7),
        (26.85, 25.9), (27.9, 27.0), (28.8, 29.8), (29.4, 31.7), (30.05, 32.4), (30.7, 34.0), (31.3, 35.0),
        (31.57, 35.9), (31.95, 34.8), (32.5, 34.0), (32.7, 31.7), (33.0, 29.3), (33.5, 29.3), (34.0, 30.3),
        (34.5, 28.4), (35.0, 23.8), (35.5, 21.0), (36.05, 18.9), (36.55, 18.2), (37.05, 18.5), (38.3, 18.9),
        (38.87, 18.5), (40.15, 19.2), (41.4, 20.1), (42.7, 21.5), (44.0, 22.9), (45.25, 24.7), (46.5, 27.0),
        (47.8, 28.9), (48.6, 29.8), (49.1, 30.3), (49.6, 31.2), (50.0, 30.7), (50.35, 29.3), (51.0, 27.5),
        (51.6, 26.1), (52.3, 23.3), (52.9, 21.0), (53.5, 19.6), (54.2, 18.9), (55.45, 18.7), (56.7, 19.4),
        (57.75, 19.4), (58.53, 18.2), (59.8, 18.5), (61.1, 19.9), (62.35, 21.2), (63.6, 22.9), (64.9, 25.2),
        (66.2, 27.5), (67.5, 29.1), (68.0, 29.6), (68.75, 29.3), (69.1, 29.8), (69.5, 28.4), (70.0, 27.5),
        (71.0, 25.6), (71.6, 22.4), (72.05, 19.6), (72.6, 18.9), (73.85, 18.0), (75.1, 18.9), (76.4, 18.5),
        (77.7, 18.2), (78.4, 18.2)]

z3_g = [(-0.3, 22.4), (0.34, 22.6), (0.98, 23.5), (2.25, 24.7), (3.5, 25.2), (4.8, 25.6), (6.1, 26.1), (6.85, 26.6),
        (7.35, 26.9), (8.6, 27.2), (9.4, 27.5), (9.9, 28.0), (10.3, 28.9), (10.8, 30.3), (11.4, 31.2), (11.9, 32.6),
        (12.45, 33.7), (12.97, 33.3), (13.5, 32.8), (14.0, 32.8), (14.5, 32.6), (15.0, 31.7), (15.5, 29.8),
        (16.0, 26.6), (16.5, 23.3), (17.05, 21.0), (17.55, 19.6), (18.07, 18.9), (18.6, 18.5), (19.1, 18.0),
        (19.7, 18.2), (20.5, 18.9), (21.75, 20.1), (23.0, 21.2), (24.3, 22.4), (25.6, 23.5), (26.85, 24.7),
        (27.9, 25.9), (28.8, 28.0), (29.4, 29.3), (30.05, 30.3), (30.7, 30.8), (31.3, 31.0), (31.95, 30.5),
        (32.5, 29.8), (33.0, 27.5), (33.5, 27.5), (34.0, 28.0), (34.5, 25.2), (35.1, 22.0), (35.8, 19.2),
        (36.55, 17.8), (37.05, 18.5), (37.7, 18.9), (38.3, 19.2), (38.87, 18.2), (39.4, 17.8), (40.15, 18.7),
        (41.4, 19.6), (42.7, 21.0), (44.0, 22.4), (45.25, 24.2), (46.5, 26.6), (47.8, 28.0), (48.6, 28.9),
        (49.1, 29.8), (49.6, 30.3), (50.35, 28.4), (51.6, 25.2), (52.9, 21.5), (54.2, 19.4), (55.2, 18.0),
        (56.7, 18.5), (57.75, 19.2), (58.53, 18.5), (59.3, 17.8), (60.4, 18.7), (62.35, 20.5), (63.6, 22.2),
        (64.9, 24.7), (66.2, 27.0), (67.5, 28.2), (68.2, 28.4), (69.0, 28.4), (69.5, 27.0), (70.0, 25.4),
        (71.3, 22.9), (72.05, 19.6), (72.6, 18.7), (73.6, 17.8), (75.1, 18.5), (76.8, 18.0), (77.7, 18.7),
        (78.4, 18.9)]

solar = [(-0.3, 39.1), (-0.1, 38.6), (0.1, 39.4), (0.3, 38.8), (0.5, 39.6), (0.7, 39.0), (0.9, 39.8), (1.1, 39.3),
         (1.3, 40.0), (1.5, 39.5), (1.7, 40.3), (2.0, 40.4), (2.2, 39.9), (2.5, 39.5), (2.7, 39.0), (2.9, 39.6),
         (3.1, 39.2), (3.3, 39.9), (3.5, 40.0), (3.7, 39.6), (3.9, 40.3), (4.1, 39.9), (4.3, 40.4), (4.55, 41.1),
         (4.8, 40.6), (5.05, 40.9), (5.3, 40.2), (5.57, 41.1), (5.8, 40.8), (6.1, 41.4), (6.4, 41.0), (6.6, 41.5),
         (6.9, 40.9), (7.0, 39.1), (7.1, 41.6), (7.35, 43.2), (7.6, 43.5), (7.86, 43.9), (8.1, 45.1), (8.35, 46.0),
         (8.6, 47.4), (8.9, 48.8), (9.1, 49.6), (9.27, 50.2), (9.5, 51.1), (9.65, 51.6), (9.7, 47.9), (9.8, 49.0),
         (9.9, 50.2), (10.16, 51.1), (10.4, 52.0), (10.6, 53.4), (10.73, 53.9), (10.8, 51.3), (11.05, 51.6),
         (11.3, 53.0), (11.56, 53.9), (11.7, 55.5), (11.9, 53.0), (12.0, 54.8), (12.2, 55.3), (12.3, 53.9),
         (12.45, 56.0), (12.7, 56.7), (12.8, 55.3), (12.97, 56.9), (13.1, 57.4), (13.2, 53.0), (13.27, 56.2),
         (13.4, 55.7), (13.6, 53.9), (13.75, 54.3), (14.0, 53.6), (14.25, 53.0), (14.5, 52.5), (14.75, 51.6),
         (15.1, 50.9), (15.5, 49.9), (15.8, 48.3), (16.0, 46.7), (16.3, 45.5), (16.5, 44.6), (16.8, 43.7),
         (17.05, 44.1), (17.3, 43.2), (17.55, 42.8), (17.8, 42.3), (18.07, 42.1), (18.3, 42.5), (18.45, 40.9),
         (18.7, 41.8), (19.1, 42.5), (19.5, 43.0), (19.7, 42.3), (19.97, 45.1), (20.1, 49.3), (20.2, 44.6),
         (20.35, 62.2), (20.5, 43.9), (20.6, 62.7), (20.7, 44.1), (20.85, 62.2), (21.0, 43.7), (21.1, 65.0),
         (21.25, 43.7), (21.45, 54.3), (21.56, 45.5), (21.75, 62.2), (21.9, 48.3), (22.1, 61.3), (22.3, 51.1),
         (22.4, 65.0), (22.5, 44.1), (22.9, 44.1), (23.0, 62.2), (23.15, 45.5), (23.3, 64.8), (23.5, 47.4),
         (23.6, 65.0), (23.8, 46.5), (23.9, 64.5), (24.1, 47.4), (24.25, 64.1), (24.45, 56.7), (24.55, 59.9),
         (24.7, 49.3), (24.8, 63.6), (25.0, 64.5), (25.1, 48.3), (25.25, 58.5), (25.4, 43.2), (25.6, 47.9),
         (25.7, 65.5), (25.8, 50.6), (25.95, 59.9), (26.1, 65.0), (26.2, 51.1), (26.35, 59.0), (26.45, 46.0),
         (26.65, 63.6), (26.85, 43.7), (27.0, 59.4), (27.1, 49.3), (27.35, 50.2), (27.6, 48.8), (27.9, 48.8),
         (28.0, 46.0), (28.1, 49.7), (28.25, 52.0), (28.5, 53.4), (28.8, 53.9), (29.15, 54.8), (29.4, 55.7),
         (29.65, 56.7), (29.9, 56.5), (30.2, 57.1), (30.55, 57.6), (30.9, 58.0), (31.2, 57.8), (31.45, 59.4),
         (31.6, 57.8), (31.8, 56.7), (32.1, 55.7), (32.3, 54.8), (32.6, 51.6), (32.85, 49.3), (33.1, 47.9),
         (33.35, 47.0), (33.7, 46.7), (34.0, 45.1), (34.25, 44.2), (34.5, 43.2), (34.75, 40.9), (35.0, 40.2),
         (35.25, 40.4), (35.5, 40.0), (35.8, 40.0), (36.05, 39.2), (36.3, 38.8), (36.55, 39.6), (36.8, 40.0),
         (37.05, 39.4), (37.3, 40.0), (37.55, 39.7), (37.8, 40.5), (38.2, 39.8), (38.6, 40.4), (38.85, 41.6),
         (38.95, 40.0), (39.2, 40.2), (39.4, 42.0), (39.6, 42.3), (39.7, 44.6), (39.8, 63.6), (39.9, 48.8),
         (40.0, 64.8), (40.15, 45.1), (40.27, 61.3), (40.4, 46.5), (40.5, 64.5), (40.65, 48.8), (40.8, 64.1),
         (40.9, 49.3), (41.0, 43.7), (41.2, 42.8), (41.3, 59.0), (41.4, 63.1), (41.55, 49.3), (41.7, 64.1),
         (41.8, 54.8), (41.9, 64.5), (42.05, 50.6), (42.2, 60.4), (42.3, 49.3), (42.45, 64.1), (42.57, 50.2),
         (42.7, 60.4), (42.8, 50.2), (42.95, 64.1), (43.1, 45.5), (43.2, 63.6), (43.3, 63.1), (43.5, 62.7),
         (43.65, 53.0), (43.78, 35.8), (43.9, 48.3), (44.0, 60.8), (44.2, 53.0), (44.3, 63.1), (44.4, 47.4),
         (44.55, 62.2), (44.7, 51.1), (44.8, 63.6), (44.9, 48.3), (45.05, 63.1), (45.2, 51.1), (45.3, 63.1),
         (45.45, 49.3), (45.55, 62.7), (45.7, 54.8), (45.8, 63.1), (45.95, 46.0), (46.07, 61.3), (46.2, 48.3),
         (46.3, 59.0), (46.45, 48.3), (46.65, 49.3), (47.0, 48.3), (47.3, 49.3), (47.55, 50.2), (47.67, 52.0),
         (47.8, 50.6), (47.9, 49.3), (48.05, 45.5), (48.2, 44.2), (48.3, 47.4), (48.45, 44.6), (48.6, 49.3),
         (48.7, 44.6), (48.82, 50.6), (48.95, 45.5), (49.1, 50.2), (49.2, 45.1), (49.3, 49.3), (49.45, 45.5),
         (49.6, 48.8), (49.7, 45.1), (49.8, 49.3), (49.97, 47.4), (50.1, 50.2), (50.2, 42.3), (50.35, 48.3),
         (50.6, 43.7), (50.9, 42.8), (51.1, 42.3), (51.4, 40.9), (51.5, 40.0), (51.6, 40.9), (51.75, 36.3),
         (51.85, 36.8), (52.0, 33.0), (52.4, 33.7), (52.65, 33.0), (52.9, 32.8), (53.0, 32.1), (53.15, 31.6),
         (53.3, 30.7), (53.4, 36.3), (53.5, 41.8), (53.6, 33.5), (53.7, 43.7), (53.8, 32.1), (53.9, 31.9),
         (54.2, 31.7), (54.7, 31.4), (55.07, 30.7), (55.45, 31.2), (56.1, 31.7), (56.7, 32.1), (57.1, 32.1),
         (57.2, 52.0), (57.4, 52.2), (57.55, 51.6), (57.6, 40.0), (57.75, 51.3), (57.9, 30.7), (58.0, 31.7),
         (58.1, 35.4), (58.25, 50.2), (58.4, 32.6), (58.6, 31.7), (58.8, 30.3), (59.3, 30.7), (59.68, 31.2),
         (59.8, 33.5), (59.93, 41.8), (60.0, 50.6), (60.1, 51.6), (60.25, 34.4), (60.3, 50.6), (60.45, 48.3),
         (60.57, 35.4), (60.7, 51.1), (60.8, 35.4), (60.95, 51.1), (61.1, 40.0), (61.2, 50.6), (61.3, 34.0),
         (61.5, 50.2), (61.6, 42.8), (61.7, 50.2), (61.85, 40.9), (61.97, 49.3), (62.1, 51.1), (62.2, 48.3),
         (62.35, 40.5), (62.42, 31.7), (62.55, 31.0), (62.7, 34.4), (62.8, 49.3), (62.93, 32.6), (63.1, 32.4),
         (63.25, 49.3), (63.4, 50.6), (63.6, 51.1), (63.7, 46.0), (63.75, 37.2), (63.9, 50.2), (64.0, 36.3),
         (64.15, 50.2), (64.3, 35.4), (64.4, 50.2), (64.5, 35.4), (64.65, 49.7), (64.8, 34.9), (64.9, 49.3),
         (65.0, 34.4), (65.2, 48.3), (65.3, 35.4), (65.4, 47.4), (65.55, 34.9), (65.7, 44.2), (65.8, 34.4),
         (65.9, 42.8), (66.05, 34.0), (66.2, 44.6), (66.3, 34.0), (66.4, 43.7), (66.55, 33.5), (66.7, 40.9),
         (66.8, 34.4), (66.95, 43.2), (67.05, 34.0), (67.2, 42.3), (67.3, 29.8), (67.45, 20.5), (67.6, 21.0),
         (67.7, 24.2), (67.9, 24.7), (68.1, 22.9), (68.35, 23.3), (68.75, 23.5), (69.1, 24.2), (69.4, 22.9),
         (69.6, 22.4), (69.8, 22.9), (70.0, 22.0), (70.3, 20.5), (71.0, 20.5), (71.3, 19.6), (71.55, 18.9),
         (71.8, 18.7), (72.05, 17.8), (72.3, 16.2), (72.6, 15.5), (73.1, 15.0), (73.6, 14.5), (74.5, 14.6),
         (75.1, 14.8), (75.75, 15.0), (76.4, 15.1), (77.0, 15.2), (77.7, 15.5), (78.4, 15.5)]

# secondary axis (thousands)
flow_j = [(-0.3, 130.8), (2.6, 130.8), (3.3, 129.8), (4.5, 129.0), (5.8, 128.3), (7.0, 127.6), (8.3, 126.8),
          (9.6, 126.2), (19.8, 126.2), (21.0, 125.1), (22.4, 124.3), (23.7, 123.6), (25.0, 122.6), (26.2, 121.8),
          (27.35, 121.0), (39.2, 121.0), (39.5, 120.3), (40.15, 119.6), (41.4, 119.0), (42.7, 118.2), (43.7, 117.6),
          (44.2, 117.0), (46.5, 116.3), (56.7, 116.2), (57.4, 115.2), (58.9, 114.7), (59.8, 114.3), (61.1, 113.4),
          (62.35, 112.8), (63.6, 112.2), (64.9, 111.4), (66.2, 110.9), (67.5, 110.3), (68.5, 109.7), (76.6, 109.5),
          (77.7, 108.5), (78.4, 108.5)]
flow_s = [(-0.3, 0.0), (78.4, 0.0)]
temp_b = [(-0.3, 2.0), (78.4, 2.0)]
base_t = [(-0.3, 24.0), (78.4, 24.0)]

RED = "#FF0000"
PUMP = "#F0975A"
Z1C = "#B4B4B4"
Z2C = "#00B0F0"
Z3C = "#5B9BD5"
MIXC = "#8DC068"
LOOP = "#4472C4"
TEMP = "#ED7D31"
GREEN = "#70AD47"
GOLD = "#FFC000"
PURPLE = "#7030A0"
FRAME = "#A0187E"
GRAY_TXT = "#595959"


def xy(pts):
    a = np.array(pts, dtype=float)
    return a[:, 0], a[:, 1]


def status(ax, on, height, color, z):
    ax.broken_barh([(a, b - a) for a, b in on], (0, height), facecolors=color, linewidth=0, zorder=z)


fig = plt.figure(figsize=(25.09, 12.03), dpi=100)
ax = fig.add_axes([56 / 2509, 1 - 1101 / 1203, (2419 - 56) / 2509, (1101 - 109) / 1203])
ax2 = ax.twinx()

# status columns, tallest at the back
status(ax, boil_pump_on, 12, RED, 1.0)
status(ax, pump_on, 8, PUMP, 1.1)
status(ax, z1_on, 7, Z1C, 1.2)
status(ax, z2_on, 6, Z2C, 1.3)
status(ax, z3_on, 5, Z3C, 1.4)
status(ax, mix_on, 4, MIXC, 1.5)
ax.bar(boil_only, 12, width=0.06, color=RED, linewidth=0, zorder=1.6)

x, y = xy(temp_b)
ax.plot(x, y, color=TEMP, lw=4.3, zorder=2, solid_capstyle="butt")
x, y = xy(base_t)
ax.plot(x, y, color=PURPLE, lw=2.0, ls=(0, (6, 3)), zorder=2.5)
x, y = xy(et_top)
ax.plot(x, y, color=GREEN, lw=3.0, zorder=3)
x, y = xy(et_bot)
ax.plot(x, y, color=GREEN, lw=3.0, ls=(0, (0.1, 2.0)), dash_capstyle="round", zorder=3)
x, y = xy(z1_e)
ax.plot(x, y, color=Z2C, lw=2.6, ls=(0, (0.1, 2.0)), dash_capstyle="round", zorder=3.1)
x, y = xy(z3_g)
ax.plot(x, y, color=Z3C, lw=3.6, zorder=3.2)
x, y = xy(z2_f)
ax.plot(x, y, color=Z2C, lw=3.6, ls=(0, (2.6, 1.3)), zorder=3.3)
x, y = xy(loop_return)
ax.plot(x, y, color=LOOP, lw=1.9, zorder=3.4)
x, y = xy(boil_in)
ax.plot(x, y, color=RED, lw=2.0, ls=(0, (2.2, 1.3)), zorder=3.5)
x, y = xy(boil_out)
ax.plot(x, y, color=RED, lw=2.2, zorder=3.6)
x, y = xy(solar)
ax.plot(x, y, color=GOLD, lw=4.3, zorder=4, solid_joinstyle="round",
        path_effects=[pe.SimpleLineShadow(offset=(2.5, -2.5), shadow_color="black", alpha=0.45), pe.Normal()])

x, y = xy(flow_j)
ax2.plot(x, y, color=PURPLE, lw=1.8, ls=(0, (4, 2.5)), zorder=3)
x, y = xy(flow_s)
ax2.plot(x, y, color=PURPLE, lw=3.2, zorder=3, clip_on=False, solid_capstyle="butt")

ax.set_xlim(-0.3, 78.37)
ax.set_ylim(0, 80)
ax2.set_ylim(0, 140)
ax.set_yticks(range(0, 81, 10))
ax2.set_yticks(range(0, 141, 20))
ax.set_xticks(range(len(tick_labels)))
ax.set_xticklabels(tick_labels, rotation=90, fontsize=16.5, family="Liberation Sans", color="black")
ax.tick_params(axis="x", length=0, pad=11)
ax.tick_params(axis="y", length=0, pad=16, labelsize=13, labelcolor=GRAY_TXT)
ax2.tick_params(axis="y", length=0, pad=18, labelsize=13, labelcolor=GRAY_TXT)
for t in ax.get_yticklabels() + ax2.get_yticklabels():
    t.set_fontweight("bold")
ax.yaxis.grid(True, color="#D9D9D9", lw=1.5, zorder=0)
ax.set_axisbelow(True)
for a in (ax, ax2):
    for s in a.spines.values():
        s.set_color(FRAME)
        s.set_linewidth(1.6)

fig.text(2497 / 2509, 1 - 150 / 1203, "Thousands", rotation=90, ha="left", va="center",
         fontsize=14, color=GRAY_TXT, family="Liberation Sans")

# purple header strip
fig.patches.append(Rectangle((0, 1 - 10 / 1203), 1, 7 / 1203, transform=fig.transFigure,
                             color=PURPLE, zorder=5))

# legend, laid out column by column like the original
def lline(color, lw, ls="-", cap="butt"):
    return Line2D([], [], color=color, lw=lw, ls=ls, dash_capstyle=cap, solid_capstyle="round")

legend_cols = [
    (79, [(Patch(color=RED), "Boil Pump-(1)"), (lline(TEMP, 4), "Temp(B)"), (lline(Z3C, 3), "Z3-(G)")]),
    (408, [(Patch(color=PUMP), "Pump-(3)"), (lline(RED, 2, (0, (2.2, 1.3))), "Boil in-(A)"),
           (lline(GOLD, 3), "Solar-(H)")]),
    (735, [(Patch(color=Z1C), "Z1-(4)"), (lline(RED, 2.5), "Boil out-(B)"),
           (lline(PURPLE, 2.2, (0, (3, 2.5))), "BaseT-(I)")]),
    (1065, [(Patch(color=Z2C), "Z2-(5)"), (lline(GREEN, 2.5, (0, (0.1, 1.6)), "round"), "ET Bot-(C)"),
            (lline(PURPLE, 2, (0, (2, 1))), "Flow-(J)")]),
    (1390, [(Patch(color=Z3C), "Z3-(6)"), (lline(GREEN, 3), "ET Top-(D)"), (lline(PURPLE, 3), "Flow S-(8)")]),
    (1716, [(Patch(color=MIXC), "MIX-(7)"), (lline(Z2C, 2.2, (0, (0.1, 1.4)), "round"), "Z1-(E)")]),
    (2043, [(lline(LOOP, 2.2), "Loop Return (A)"), (lline(Z2C, 3.5, (0, (1.6, 0.8))), "Z2-(F)")]),
]
for xpx, entries in legend_cols:
    fig.legend([h for h, _ in entries], [l for _, l in entries], loc="upper left",
               bbox_to_anchor=(xpx / 2509, 1 - 20 / 1203), frameon=False,
               prop={"family": "Liberation Sans", "size": 14.2}, labelcolor=GRAY_TXT,
               handlelength=3.4, handleheight=0.75, handletextpad=0.35, labelspacing=0.58,
               borderpad=0, borderaxespad=0)

fig.savefig("out.png", dpi=100)
